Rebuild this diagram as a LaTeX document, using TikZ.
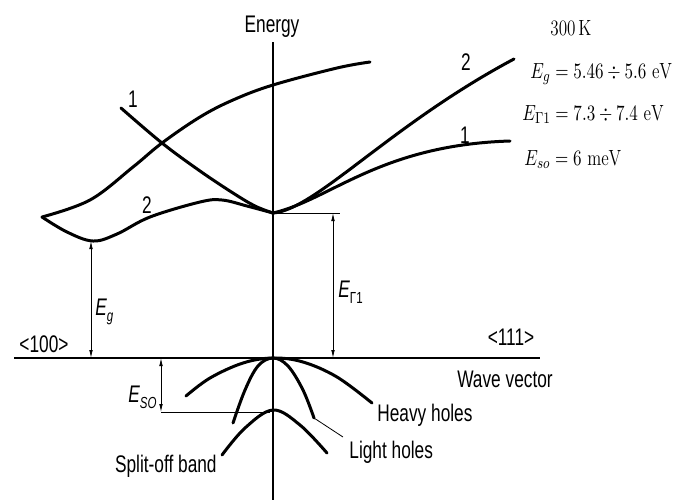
\documentclass[tikz,border=0pt]{standalone}
\usepackage{fontspec}
\usepackage{graphicx}
\usetikzlibrary{arrows.meta, positioning}
\newfontfamily\dinfont[FakeStretch=0.72]{Liberation Sans}
\newcommand{\lowsub}[1]{\raisebox{-0.55ex}{\footnotesize #1}}
\newcommand{\narrowtext}[1]{\scalebox{0.78}[1]{#1}}

\begin{document}
\begin{tikzpicture}[x=0.5pt, y=-0.5pt,
        band/.style={line width=1.5pt, line cap=round, line join=round},
        axisline/.style={line width=0.6pt},
        kline/.style={line width=1.1pt},
        dimline/.style={line width=0.4pt, {Latex[length=4pt,width=1.8pt]}-{Latex[length=4pt,width=1.8pt]}},
        helper/.style={line width=0.4pt},
        lbl/.style={font=\dinfont\fontsize{12}{14}\selectfont, inner sep=0pt},
        val/.style={font=\fontsize{11}{13}\selectfont, inner sep=0pt, anchor=base west}
    ]
        \useasboundingbox (0,0) rectangle (674,500);

        % Axes
        \coordinate (top) at (273,42);
        \coordinate (bot) at (273,500);
        \coordinate (kl) at (14,358);
        \coordinate (kr) at (540,358);
        \draw[axisline] (top) -- (bot);
        \draw[kline] (kl) -- (kr);
        \node[lbl, anchor=base] (energy) at (272,32) {Energy};
        \node[lbl, anchor=base] (dir100) at (44,352) {<100>};
        \node[lbl, anchor=base] (dir111) at (511,345) {<111>};
        \node[lbl, anchor=base] (wave) at (505,387) {Wave vector};

        % Conduction band
        \coordinate (G) at (273,213);
        \draw[band] plot[smooth, tension=0.6] coordinates {(42,217) (67,232) (93,241) (117,234) (150,217) (200,202) (222,200) (247,206) (G)};
        \draw[band] plot[smooth, tension=0.6] coordinates {(42,217) (90,200) (133,167) (162,143) (200,117) (233,100) (273,85) (337,68) (370,62)};
        \draw[band] plot[smooth, tension=0.6] coordinates {(121,108) (162,143) (200,171) (233,193) (255,206) (G)};
        \draw[band] (G) .. controls (315,210) and (390,125) .. (514,59);
        \draw[band] (G) .. controls (330,200) and (380,145) .. (510,141);
        \node[lbl, anchor=base] (one100) at (133,107) {1};
        \node[lbl, anchor=base] (two100) at (147,213) {2};
        \node[lbl, anchor=base] (two111) at (466,70) {2};
        \node[lbl, anchor=base] (one111) at (465,143) {1};

        % Valence band
        \coordinate (V) at (273,358);
        \coordinate (hhend) at (372,403);
        \coordinate (lhend) at (314,418);
        \coordinate (soend) at (222,455);
        \draw[band] plot[smooth, tension=0.6] coordinates {(186,396) (210,378) (243,363) (V) (303,362) (337,377) (hhend)};
        \draw[band] plot[smooth, tension=0.6] coordinates {(233,423) (245,390) (258,366) (V) (288,366) (303,390) (lhend)};
        \draw[band] plot[smooth, tension=0.6] coordinates {(soend) (245,428) (273,410) (300,425) (327,453)};
        \node[lbl, anchor=base west] (heavy) at (377,421) {Heavy holes};
        \node[lbl, anchor=base west] (light) at (349,458) {Light holes};
        \node[lbl, anchor=base east] (split) at (217,472) {Split-off band};
        \coordinate (lhtip) at (343,437);
        \draw[helper] (lhend) -- (lhtip);

        % Energy gaps
        \coordinate (gmin) at (91,241);
        \coordinate (gaxis) at (91,358);
        \draw[dimline] (gmin) -- (gaxis);
        \node[lbl, anchor=base west] (eg) at (95,315) {\itshape E\lowsub{g}};

        \coordinate (g1ext) at (340,213);
        \coordinate (g1a) at (333,213);
        \coordinate (g1b) at (333,358);
        \draw[helper] (G) -- (g1ext);
        \draw[dimline] (g1a) -- (g1b);
        \node[lbl, anchor=base west] (egamma) at (338,297) {\itshape E\lowsub{\upshape Γ1}};

        \coordinate (soa) at (161,358);
        \coordinate (sob) at (161,412);
        \coordinate (sotop) at (270,412);
        \draw[helper] (sob) -- (sotop);
        \draw[dimline] (soa) -- (sob);
        \node[lbl, anchor=base west] (eso) at (128,402) {\itshape E\lowsub{SO}};

        % Values
        \node[val] (temp) at (550,35) {\narrowtext{300\,K}};
        \node[val] (vg) at (530,78) {\narrowtext{$E_g = 5.46 \div 5.6\ \mathrm{eV}$}};
        \node[val] (vgamma) at (522,120) {\narrowtext{$E_{\Gamma 1} = 7.3 \div 7.4\ \mathrm{eV}$}};
        \node[val] (vso) at (524,165) {\narrowtext{$E_{so} = 6\ \mathrm{meV}$}};
    \end{tikzpicture}
\end{document}
